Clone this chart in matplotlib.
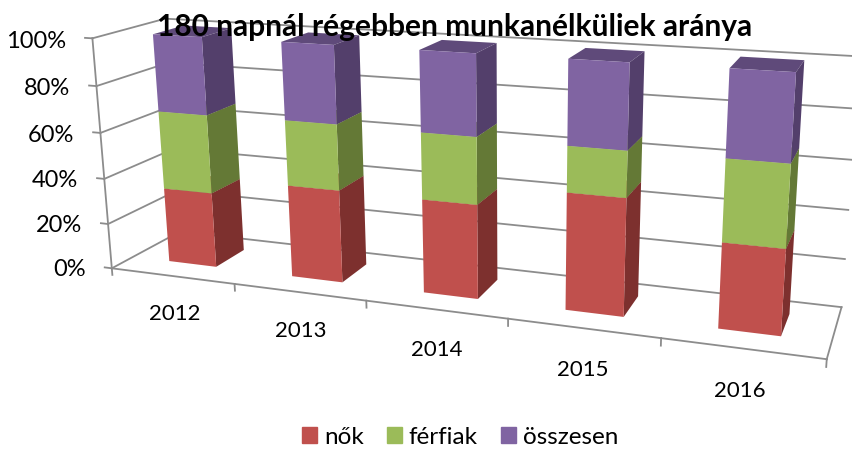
import numpy as np
from matplotlib import pyplot as plt
from matplotlib.patches import Patch
from mpl_toolkits.mplot3d import Axes3D, proj3d  # noqa: F401

plt.rcParams["font.family"] = ["Lato", "DejaVu Sans"]

years = ["2012", "2013", "2014", "2015", "2016"]
nok = [33.0, 39.8, 39.5, 48.0, 34.3]
ferfiak = [34.0, 27.8, 27.6, 18.5, 32.3]
osszesen = [33.0, 32.4, 32.9, 33.5, 33.4]
percent_ticks = [0, 20, 40, 60, 80, 100]

series = [
    ("nők", nok, "#C0504D", "#7D302E", "#8F3C39"),
    ("férfiak", ferfiak, "#9BBB59", "#647936", "#73893F"),
    ("összesen", osszesen, "#8064A2", "#533F6B", "#5F4A7A"),
]

GRID = "#8C8C8C"
HIDDEN = (0, 0, 0, 0)
W, H = 852, 450
BAR_W = 0.39
BAR_Y0 = 0.3
BAR_Y1 = 0.74

# box corners in data coords -> where they land in the picture (pixels)
world = [
    (-0.5, 0, 0), (4.5, 0, 0), (4.5, 1, 0), (-0.5, 1, 0),
    (-0.5, 0, 100), (4.5, 1, 100), (-0.5, 1, 100),
    (0.5, 0, 0), (3.5, 0, 0),
    (-BAR_W / 2, BAR_Y0, 0), (-BAR_W / 2, BAR_Y0, 100),
    (BAR_W / 2, BAR_Y1, 0),
    (1 - BAR_W / 2, BAR_Y0, 0), (1 - BAR_W / 2, BAR_Y0, 100),
    (3 - BAR_W / 2, BAR_Y0, 0), (3 - BAR_W / 2, BAR_Y0, 100),
    (4 - BAR_W / 2, BAR_Y0, 0), (4 - BAR_W / 2, BAR_Y0, 100),
]
image = [
    (110, 268), (826, 360), (843, 306), (182, 231),
    (93, 37), (858, 57), (160, 21),
    (233, 284), (660, 339),
    (170, 262), (156, 34),
    (245, 248),
    (292, 277), (283, 42),
    (565, 310), (569, 58),
    (718, 329), (730, 67),
]


def fit_camera(world, image):
    rows = []
    for (x, y, z), (u, v) in zip(world, image):
        rows.append([x, y, z, 1, 0, 0, 0, 0, -u * x, -u * y, -u * z, -u])
        rows.append([0, 0, 0, 0, x, y, z, 1, -v * x, -v * y, -v * z, -v])
    p = np.linalg.svd(np.array(rows, dtype=float))[2][-1].reshape(3, 4)
    p = p / p[2, 3]
    return np.array([p[0], p[1], [0, 1, 0, 0], p[2]])


camera = fit_camera(world, image)


def label(x, y, z, s, **kwargs):
    px, py, _ = proj3d.proj_transform(x, y, z, camera)
    fig.text(px / W, 1 - py / H, s, va="center", **kwargs)


fig = plt.figure(figsize=(W / 100, H / 100), dpi=100)
ax = fig.add_axes([0, 0, 1, 1], projection="3d", computed_zorder=False)
ax.set_axis_off()
ax.set_proj_type("ortho")

# wall grid
for z in percent_ticks:
    ax.plot([-0.5, 4.5], [1, 1], [z, z], color=GRID, lw=1.3)
    ax.plot([-0.5, -0.5], [0, 1], [z, z], color=GRID, lw=1.3)
    ax.plot([-0.56, -0.5], [0, 0], [z, z], color=GRID, lw=1.3)
    label(-0.72, 0, z - 2, f"{z}%", ha="right", fontsize=17)
ax.plot([-0.5, -0.5], [0, 0], [0, 100], color=GRID, lw=1.3)
ax.plot([-0.5, 4.5], [0, 0], [0, 0], color=GRID, lw=1.3)
ax.plot([4.5, 4.5], [0, 1], [0, 0], color=GRID, lw=1.3)
for x in np.arange(-0.5, 5):
    ax.plot([x, x], [0, 0], [0, -3], color=GRID, lw=1.3)

for i, year in enumerate(years):
    label(i, 0, -17, year, ha="center", fontsize=16)
    bottom = 0
    for j, (name, vals, front, side, top) in enumerate(series):
        # faces: bottom, top, front, back, left, right
        ax.bar3d(i - BAR_W / 2, BAR_Y0, bottom, BAR_W, BAR_Y1 - BAR_Y0, vals[i],
                 color=[HIDDEN, top, front, HIDDEN, HIDDEN, side], shade=False,
                 zorder=5 + j + 3 * i, linewidth=0)
        bottom += vals[i]

ax.get_proj = lambda: camera
ax.apply_aspect = lambda position=None: None
ax.viewLim.intervalx = (0, W)
ax.viewLim.intervaly = (H, 0)

fig.text(455 / W, 1 - 27 / H, "180 napnál régebben munkanélküliek aránya",
         ha="center", va="center", fontsize=21.5, fontweight="bold")

handles = [Patch(color=s[2], label=s[0]) for s in series]
fig.legend(handles=handles, loc="center", bbox_to_anchor=(460 / W, 1 - 437 / H),
           ncol=3, frameon=False, fontsize=17.5, handlelength=0.62, handleheight=0.62,
           handletextpad=0.29, columnspacing=0.95)

fig.savefig("out.png", dpi=100)
